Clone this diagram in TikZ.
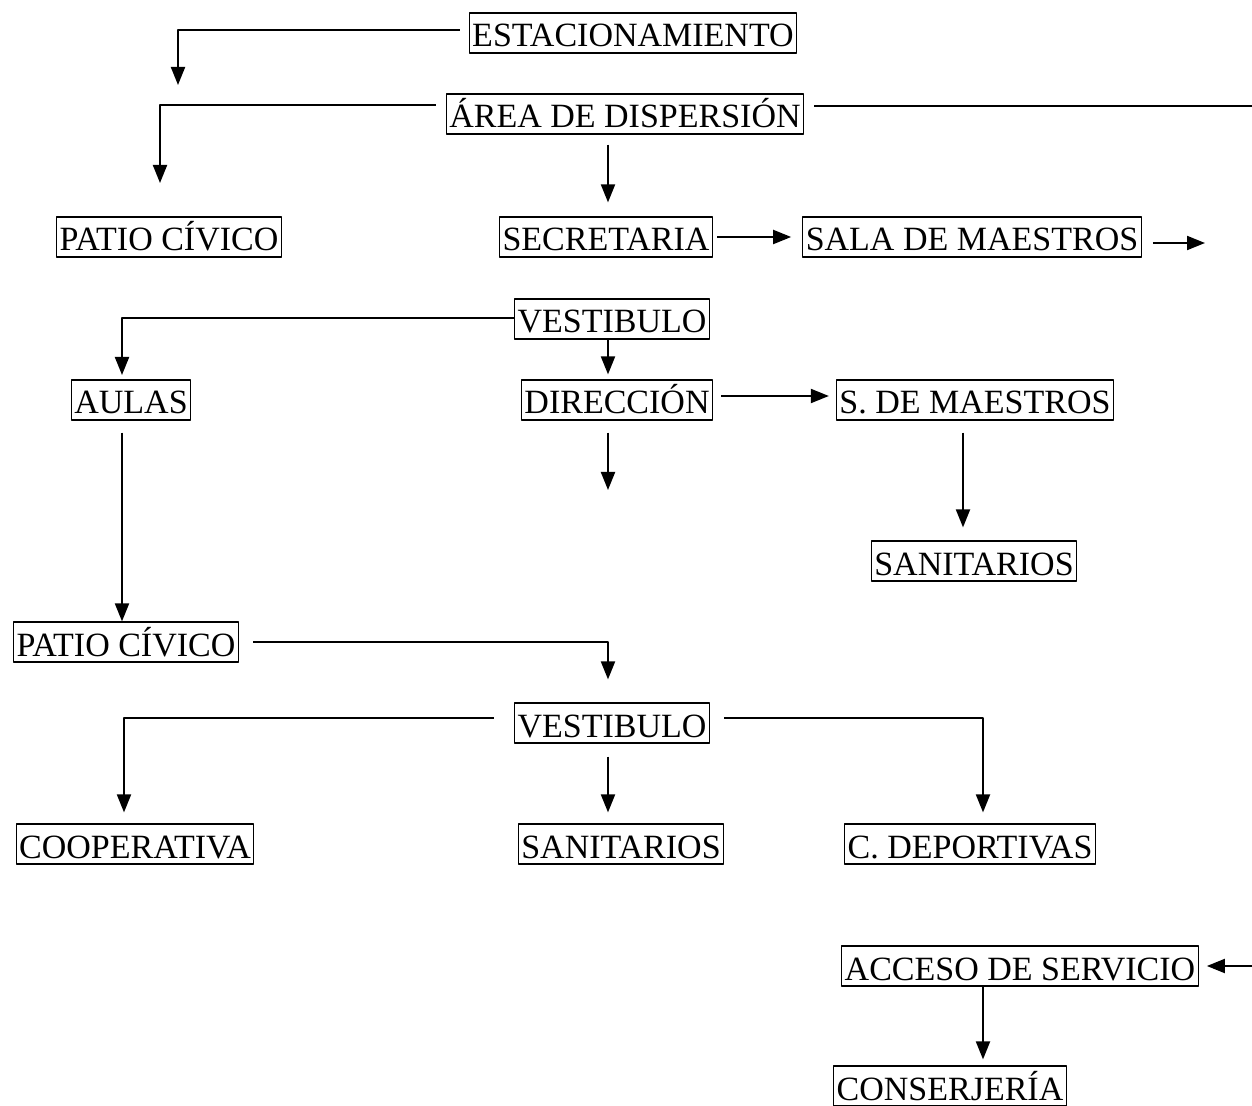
\documentclass[tikz,border=0pt]{standalone}
\usepackage{fontspec}
\setmainfont{Liberation Serif}
\usetikzlibrary{arrows.meta}

\begin{document}
\begin{tikzpicture}[x=0.5pt,y=-0.5pt,>={Triangle[length=9pt,width=7pt]}, line width=1pt, line join=round,
	caja/.style={draw,line width=0.6pt,inner xsep=1.5pt,inner ysep=2pt,text height=15pt,text depth=1pt,font=\fontsize{17}{17}\selectfont}]
	\useasboundingbox (0,0) rectangle (1252,1106);
	% espacios
	\node[caja] (est) at (633,33) {ESTACIONAMIENTO};
	\node[caja] (area) at (625,114) {ÁREA DE DISPERSIÓN};
	\node[caja] (pat1) at (169,237) {PATIO CÍVICO};
	\node[caja] (sec) at (606,237) {SECRETARIA};
	\node[caja] (sala) at (972,237) {SALA DE MAESTROS};
	\node[caja] (ves1) at (612,319) {VESTIBULO};
	\node[caja] (aul) at (131,400) {AULAS};
	\node[caja] (dir) at (617,400) {DIRECCIÓN};
	\node[caja] (sdm) at (975,400) {S. DE MAESTROS};
	\node[caja] (san1) at (974,561) {SANITARIOS};
	\node[caja] (pat2) at (126,642) {PATIO CÍVICO};
	\node[caja] (ves2) at (612,723) {VESTIBULO};
	\node[caja] (coop) at (135,844) {COOPERATIVA};
	\node[caja] (san2) at (621,844) {SANITARIOS};
	\node[caja] (dep) at (970,844) {C. DEPORTIVAS};
	\node[caja] (acc) at (1020,966) {ACCESO DE SERVICIO};
	\node[caja] (con) at (950,1086) {CONSERJERÍA};
	% extremos libres
	\coordinate (e1) at (178,85);
	\coordinate (a1) at (160,183);
	\coordinate (a2) at (1252,106);
	\coordinate (s1) at (1205,243);
	\coordinate (v1) at (122,375);
	\coordinate (d1) at (608,490);
	\coordinate (r1) at (1252,966);
	% circulaciones
	\draw[->] ([xshift=-4.5pt,yshift=1.5pt]est.west) -| (e1);
	\draw[->] ([xshift=-5pt,yshift=4.5pt]area.west) -| (a1);
	\draw ([xshift=5pt,yshift=4pt]area.east) -- (a2);
	\draw[->] ([xshift=-8.5pt,yshift=-5pt]area.south) -- ([xshift=1pt,yshift=7pt]sec.north);
	\draw[->] ([xshift=2pt]sec.east) -- ([xshift=-5.5pt]sala.west);
	\draw[->] ([xshift=5.5pt,yshift=-3pt]sala.east) -- (s1);
	\draw[->] ([yshift=0.5pt]ves1.west) -| (v1);
	\draw[->] ([xshift=-2pt]ves1.south) -- ([xshift=-4.5pt,yshift=2.5pt]dir.north);
	\draw[->] ([xshift=4pt,yshift=2pt]dir.east) -- ([xshift=-3.5pt,yshift=2pt]sdm.west);
	\draw[->] ([xshift=-4.5pt,yshift=-6pt]dir.south) -- (d1);
	\draw[->] ([xshift=-6pt,yshift=-6pt]sdm.south) -- ([xshift=-5.5pt,yshift=6.5pt]san1.north);
	\draw[->] ([xshift=-4.5pt,yshift=-6pt]aul.south) -- ([xshift=-2pt]pat2.north);
	\draw[->] ([xshift=7pt]pat2.east) -| ([xshift=-2pt,yshift=11.5pt]ves2.north);
	\draw[->] ([xshift=-10pt,yshift=2.5pt]ves2.west) -| ([xshift=-5.5pt,yshift=5.5pt]coop.north);
	\draw[->] ([xshift=-2pt,yshift=-6.5pt]ves2.south) -- ([xshift=-6.5pt,yshift=5.5pt]san2.north);
	\draw[->] ([xshift=7pt,yshift=2.5pt]ves2.east) -| ([xshift=6.5pt,yshift=5.5pt]dep.north);
	\draw[<-] ([xshift=4pt]acc.east) -- (r1);
	\draw[->] ([xshift=-18.5pt]acc.south) -- ([xshift=16.5pt,yshift=3pt]con.north);
\end{tikzpicture}
\end{document}
